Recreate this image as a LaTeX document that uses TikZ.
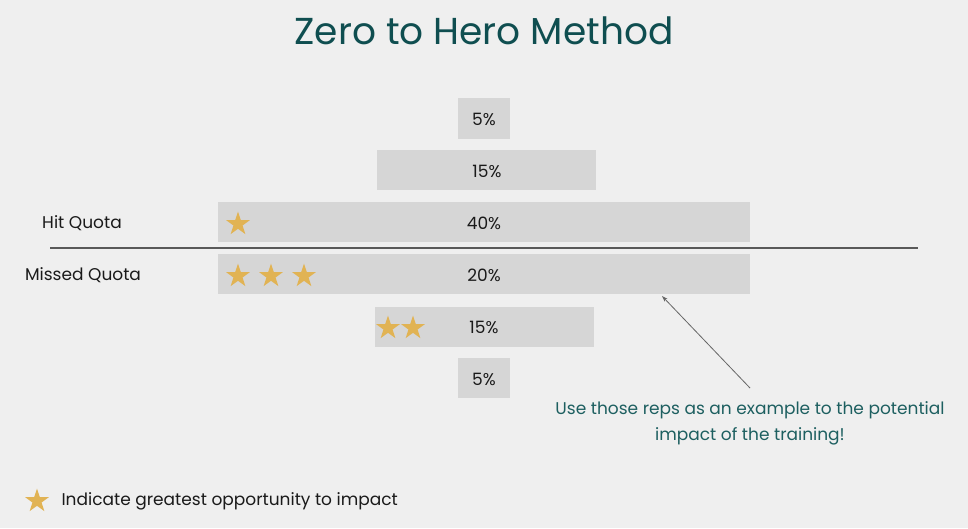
\documentclass[tikz,border=0pt]{standalone}
\usepackage{fontspec}
\setmainfont{Poppins}
\usetikzlibrary{shapes.geometric,arrows.meta}
\definecolor{bg}{HTML}{EFEFEF}
\definecolor{barc}{HTML}{D6D6D6}
\definecolor{gold}{HTML}{E1B354}
\definecolor{teal}{HTML}{0F4E50}
\definecolor{noteteal}{HTML}{1D5F60}
\definecolor{txt}{HTML}{1A1A1A}
\begin{document}
\begin{tikzpicture}[x=1pt,y=-1pt,
  bar/.style={fill=barc,draw=none},
  pct/.style={font=\fontsize{17}{18}\selectfont,text=txt},
  lbl/.style={font=\fontsize{17}{18}\selectfont,text=txt},
  gstar/.style={star,star points=5,star point ratio=2.6,fill=gold,draw=none,minimum size=25pt,inner sep=0pt}]
\fill[bg] (0,0) rectangle (968,528);
\useasboundingbox (0,0) rectangle (968,528);
\node[font=\fontsize{37.5}{42}\selectfont,text=teal] (title) at (484,31) {Zero to Hero Method};
% bars
\fill[bar] (458,98) rectangle (510,139);
\fill[bar] (377,150) rectangle (596,190);
\fill[bar] (218,202) rectangle (750,242);
\fill[bar] (218,254) rectangle (750,294);
\fill[bar] (375,307) rectangle (594,347);
\fill[bar] (458,358) rectangle (510,398);
\node[pct] (p1) at (484,119.5) {5\%};
\node[pct] (p2) at (487,171.5) {15\%};
\node[pct] (p3) at (484,223.5) {40\%};
\node[pct] (p4) at (484,275.5) {20\%};
\node[pct] (p5) at (484,327.5) {15\%};
\node[pct] (p6) at (484,379.5) {5\%};
% divider
\coordinate (dl) at (50,248);
\coordinate (dr) at (918,248);
\draw[line width=1.6pt,draw=black!65] (dl) -- (dr);
\node[lbl] (hit) at (82,223.5) {Hit Quota};
\node[lbl] (miss) at (83,275.5) {Missed Quota};
% stars
\node[gstar] (s1) at (238,224) {};
\node[gstar] (s2) at (238,276) {};
\node[gstar] (s3) at (271,276) {};
\node[gstar] (s4) at (304,276) {};
\node[gstar] (s5) at (388,328) {};
\node[gstar] (s6) at (413,328) {};
% note
\node[font=\fontsize{17}{26}\selectfont,text=noteteal,align=center] (note) at (750,423.5) {Use those reps as an example to the potential\\impact of the training!};
\coordinate (as) at (750,388);
\coordinate (ae) at (662,296);
\draw[draw=black!60,line width=0.8pt,-{Stealth[length=6pt,width=4pt]}] (as) -- (ae);
% legend
\node[gstar] (ls) at (37,501) {};
\node[lbl,anchor=west] (legend) at (58,501.5) {Indicate greatest opportunity to impact};
\end{tikzpicture}
\end{document}
